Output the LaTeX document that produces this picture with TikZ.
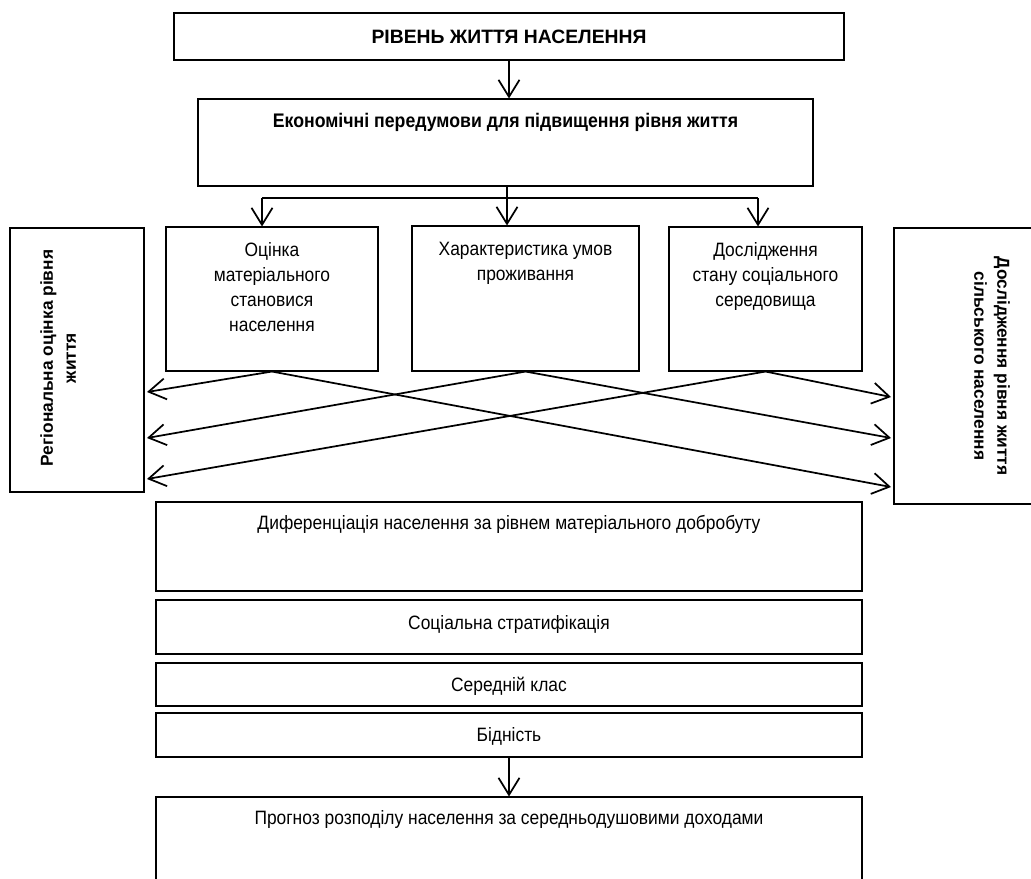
\documentclass[tikz,border=0pt]{standalone}
\usepackage{fontspec}
\newfontfamily\arialfont{Liberation Sans}[FakeStretch=0.9]
\newfontfamily\arialwide{Liberation Sans}
\usepackage{tikz}
\usetikzlibrary{arrows.meta}
\usetikzlibrary{positioning}
\tikzstyle{blk}=[draw=black,line width=0.8pt,inner sep=0pt]
\tikzstyle{lbl}=[inner sep=0pt,align=center,font=\arialfont\fontsize{14.5pt}{18.75pt}\selectfont]
\tikzstyle{side}=[inner sep=0pt,align=center,font=\arialwide\bfseries\fontsize{13pt}{17.25pt}\selectfont]
\tikzstyle{arr}=[-{Straight Barb[length=12.75pt,width=15.75pt]},line width=1.3pt]
\tikzstyle{fork}=[line width=0.8pt]

\begin{document}
\begin{tikzpicture}[x=0.75pt,y=-0.75pt]
\useasboundingbox (0,0) rectangle (1031,878);
\clip (0,0) rectangle (1031,878);
% top levels
\node[blk,minimum width=502.5pt,minimum height=35.25pt] (ryven) at (509,36.5) {};
\node[lbl,font=\arialwide\bfseries\fontsize{14.5pt}{18.75pt}\selectfont] (ryvenT) at (ryven) {РІВЕНЬ ЖИТТЯ НАСЕЛЕННЯ};
\node[blk,minimum width=461.25pt,minimum height=65.25pt] (econ) at (505.5,142.5) {};
\node[lbl,font=\arialfont\bfseries\fontsize{14.75pt}{18.75pt}\selectfont,below=11pt of econ.north] (econT) {Економічні передумови для підвищення рівня життя};
% three directions
\node[blk,minimum width=159pt,minimum height=108pt] (otsinka) at (272,299) {};
\node[lbl,below=12pt of otsinka.north] (otsinkaT) {Оцінка\\матеріального\\становися\\населення};
\node[blk,minimum width=170.25pt,minimum height=108.75pt] (kharakt) at (525.5,298.5) {};
\node[lbl,below=12pt of kharakt.north] (kharaktT) {Характеристика умов\\проживання};
\node[blk,minimum width=144.75pt,minimum height=108pt] (doslid) at (765.5,299) {};
\node[lbl,below=12pt of doslid.north] (doslidT) {Дослідження\\стану соціального\\середовища};
% side boxes
\node[blk,minimum width=100.5pt,minimum height=198pt] (lft) at (77,360) {};
\node[side,rotate=90] (lftT) at (58,358) {Регіональна оцінка рівня\\життя};
\node[blk,minimum width=109.5pt,minimum height=207pt] (rgt) at (967,366) {};
\node[side,rotate=-90] (rgtT) at (992,366) {Дослідження рівня життя\\сільського населення};
% lower stack
\node[blk,minimum width=529.5pt,minimum height=66.75pt] (dyfer) at (509,546.5) {};
\node[lbl,below=10pt of dyfer.north] (dyferT) {Диференціація населення за рівнем матеріального добробуту};
\node[blk,minimum width=529.5pt,minimum height=40.5pt] (sotsial) at (509,627) {};
\node[lbl,below=12pt of sotsial.north] (sotsialT) {Соціальна стратифікація};
\node[blk,minimum width=529.5pt,minimum height=32.25pt] (seredn) at (509,684.5) {};
\node[lbl,below=11pt of seredn.north] (serednT) {Середній клас};
\node[blk,minimum width=529.5pt,minimum height=33pt] (bidnist) at (509,735) {};
\node[lbl,below=11pt of bidnist.north] (bidnistT) {Бідність};
\node[blk,minimum width=529.5pt,minimum height=77.25pt] (prognoz) at (509,848.5) {};
\node[lbl,below=10pt of prognoz.north] (prognozT) {Прогноз розподілу населення за середньодушовими доходами};
% connectors
\draw[arr] (ryven.south) -- (ryven.south |- econ.north);
\coordinate (fk) at (507,198);
\coordinate (fkL) at (262,198);
\coordinate (fkR) at (758,198);
\draw[fork] (fkL) -- (fkR);
\draw[arr] (econ.south -| fk) -- (fk |- kharakt.north);
\draw[arr] (fkL) -- (fkL |- otsinka.north);
\draw[arr] (fkR) -- (fkR |- doslid.north);
\coordinate (la) at (147,392);
\coordinate (lb) at (147,438);
\coordinate (lc) at (147,479);
\coordinate (ra) at (891,397);
\coordinate (rb) at (891,438);
\coordinate (rc) at (891,487);
\draw[arr] (otsinka.south) -- (la);
\draw[arr] (otsinka.south) -- (rc);
\draw[arr] (kharakt.south) -- (lb);
\draw[arr] (kharakt.south) -- (rb);
\draw[arr] (doslid.south) -- (lc);
\draw[arr] (doslid.south) -- (ra);
\draw[arr] (bidnist.south) -- (prognoz.north);
\end{tikzpicture}
\end{document}
